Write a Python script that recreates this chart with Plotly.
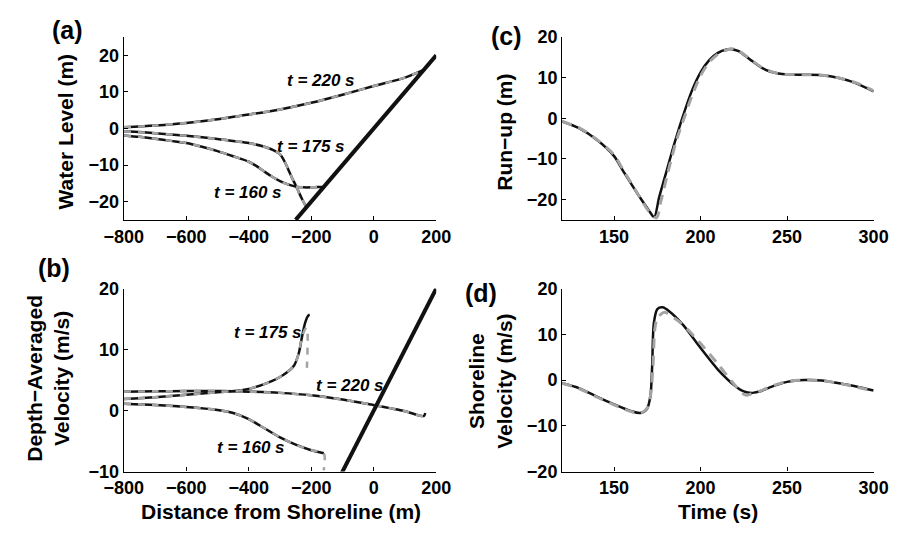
import plotly.graph_objects as go

# ---------------- data ----------------
# Panel (a): water level profiles (m) vs distance from shoreline (m)
a_x_220 = [-800, -700, -600, -500, -400, -300, -200, -100, 0, 100, 160]
a_y_220 = [0.3, 0.8, 1.5, 2.5, 3.8, 5.2, 7.0, 9.2, 11.6, 13.9, 16.0]
a_x_175 = [-800, -700, -600, -500, -400, -350, -320, -300, -290, -280, -270, -260, -250, -240, -230, -220, -215]
a_y_175 = [-0.8, -1.3, -2.0, -2.9, -4.0, -5.0, -6.0, -7.1, -8.3, -10.0, -11.9, -13.8, -15.5, -17.4, -19.2, -20.8, -21.5]
a_x_160 = [-800, -750, -700, -650, -600, -550, -500, -450, -400, -375, -350, -325, -300, -275, -250, -225, -200, -180, -160]
a_y_160 = [-1.9, -2.3, -2.8, -3.4, -4.0, -5.0, -6.2, -7.6, -9.1, -10.3, -11.8, -13.2, -14.4, -15.3, -15.9, -16.1, -16.1, -16.0, -16.0]

# Panel (b): depth-averaged velocity (m/s)
b_x_220 = [-800, -700, -600, -500, -400, -300, -200, -100, 0, 100, 160, 165]
b_y_220 = [3.1, 3.15, 3.2, 3.2, 3.1, 2.9, 2.5, 1.8, 0.9, -0.1, -0.9, -0.4]
b_x_175 = [-800, -700, -600, -500, -414, -342, -291, -255, -240, -230, -219, -209, -205]
b_y_175 = [1.9, 2.2, 2.6, 3.0, 3.4, 4.5, 5.8, 7.4, 9.4, 12.0, 14.5, 15.6, 15.7]
b_x_175_num = [-800, -700, -600, -500, -414, -342, -291, -255, -240, -230, -219, -214, -214]
b_y_175_num = [1.9, 2.2, 2.6, 3.0, 3.4, 4.5, 5.8, 7.4, 9.4, 12.0, 13.4, 13.6, 7.0]
b_x_160 = [-800, -700, -600, -500, -450, -400, -350, -300, -250, -200, -160]
b_y_160 = [1.1, 0.9, 0.6, 0.1, -0.4, -1.4, -2.9, -4.4, -5.6, -6.5, -7.0]
b_x_160_num = [-800, -700, -600, -500, -450, -400, -350, -300, -250, -200, -160, -160]
b_y_160_num = [1.1, 0.9, 0.6, 0.1, -0.4, -1.4, -2.9, -4.4, -5.6, -6.5, -7.0, -9.8]

# Beach profile (slope 1:10)
beach_x = [-250, 200]
beach_y = [-25, 20]

# Panel (c): run-up (m) vs time (s)
c_t = [120, 130, 140, 150, 155, 160, 165, 170, 173.2, 176, 180, 185, 190, 195, 200, 205, 210, 215, 218, 222, 226, 230, 235, 240, 245, 250, 260, 270, 280, 290, 300]
c_r = [-0.8, -2.5, -5.3, -9.3, -12.8, -16.2, -19.5, -22.6, -24.3, -19.5, -13.5, -6.0, 0.8, 6.8, 11.3, 14.3, 16.1, 16.9, 17.0, 16.5, 15.3, 14.0, 12.5, 11.5, 11.0, 10.8, 10.7, 10.6, 9.9, 8.6, 6.6]
c_t_num = [120, 130, 140, 150, 155, 160, 165, 170, 174.5, 177, 181, 186, 190, 195, 200, 205, 210, 215, 219, 222, 226, 230, 235, 240, 245, 250, 260, 270, 280, 290, 300]
c_r_num = [-0.8, -2.4, -5.2, -9.0, -12.5, -16.0, -19.5, -22.8, -24.5, -20.5, -13.5, -5.5, -0.5, 5.5, 10.5, 13.8, 15.8, 16.8, 17.1, 16.6, 15.4, 14.1, 12.6, 11.6, 11.0, 10.8, 10.7, 10.6, 9.9, 8.7, 6.8]

# Panel (d): shoreline velocity (m/s) vs time (s)
d_t = [120, 130, 140, 150, 160, 165, 169, 171, 172, 173, 175, 178, 182, 190, 200, 210, 220, 225, 230, 235, 240, 250, 260, 270, 280, 290, 300]
d_v = [-0.7, -1.8, -3.6, -5.3, -6.8, -7.2, -6.3, -3.5, 3.0, 12.5, 15.5, 15.9, 15.0, 12.0, 7.0, 2.3, -1.3, -2.5, -2.8, -2.4, -1.6, -0.4, 0.0, -0.1, -0.7, -1.4, -2.3]
d_t_num = [120, 130, 140, 150, 160, 165, 169, 171, 172.5, 173.5, 175, 179, 185, 190, 200, 210, 220, 226, 230, 235, 240, 250, 260, 270, 280, 290, 300]
d_v_num = [-0.7, -1.9, -3.7, -5.4, -6.9, -7.3, -6.2, -3.5, 3.0, 11.0, 13.5, 14.8, 13.5, 12.0, 8.0, 3.5, -1.2, -3.3, -2.9, -2.3, -1.5, -0.3, 0.0, -0.1, -0.7, -1.5, -2.4]

time_labels = ["t = 220 s", "t = 175 s", "t = 160 s"]

# ---------------- figure ----------------
W, H = 904, 540
BLACK = "#111111"
GRAY = "#a3a3a3"
FAM = "Liberation Sans"

fig = go.Figure()

def px_x(p):
    return p / W

def px_y(p):
    return 1 - p / H

# axes domains (pixel positions measured from reference)
dom = {
    "a": dict(x=[px_x(108), px_x(433)], y=[px_y(218), px_y(28)]),
    "c": dict(x=[px_x(564), px_x(888)], y=[px_y(218), px_y(28)]),
    "b": dict(x=[px_x(108), px_x(433)], y=[px_y(479.3), px_y(289.3)]),
    "d": dict(x=[px_x(564), px_x(888)], y=[px_y(479.3), px_y(289.3)]),
}
axmap = {"a": ("x", "y"), "c": ("x2", "y2"), "b": ("x3", "y3"), "d": ("x4", "y4")}

def add_pair(panel, xs, ys, xs2=None, ys2=None, gray_w=2.5, dash="7px,7px", spline=True):
    xa, ya = axmap[panel]
    shape = "spline" if spline else "linear"
    fig.add_trace(go.Scatter(x=xs, y=ys, mode="lines", xaxis=xa, yaxis=ya,
                             line=dict(color=BLACK, width=2.5, shape=shape, smoothing=0.8),
                             showlegend=False, hoverinfo="skip"))
    fig.add_trace(go.Scatter(x=xs2 if xs2 is not None else xs, y=ys2 if ys2 is not None else ys,
                             mode="lines", xaxis=xa, yaxis=ya,
                             line=dict(color=GRAY, width=gray_w, dash=dash, shape=shape, smoothing=0.8),
                             showlegend=False, hoverinfo="skip"))

# Panel a
add_pair("a", a_x_220, a_y_220)
add_pair("a", a_x_175, a_y_175)
add_pair("a", a_x_160, a_y_160)
fig.add_trace(go.Scatter(x=beach_x, y=beach_y, mode="lines", xaxis="x", yaxis="y",
                         line=dict(color=BLACK, width=4), showlegend=False, hoverinfo="skip"))
# Panel b
add_pair("b", b_x_220, b_y_220)
add_pair("b", b_x_175, b_y_175, b_x_175_num, b_y_175_num)
add_pair("b", b_x_160, b_y_160, b_x_160_num, b_y_160_num)
fig.add_trace(go.Scatter(x=beach_x, y=beach_y, mode="lines", xaxis="x3", yaxis="y3",
                         line=dict(color=BLACK, width=4), showlegend=False, hoverinfo="skip"))
# Panel c
add_pair("c", c_t, c_r, c_t_num, c_r_num, gray_w=3, dash="10px,7px")
# Panel d
add_pair("d", d_t, d_v, d_t_num, d_v_num, gray_w=3, dash="10px,7px")

axis_common = dict(showline=True, linecolor="black", linewidth=1.3, ticks="inside",
                   ticklen=4, tickwidth=1, tickcolor="black", showgrid=False, zeroline=False,
                   mirror=False, tickfont=dict(size=18, color="black", family=FAM, weight="bold"))

xr = [-800, 200]
fig.update_layout(
    width=W, height=H, margin=dict(l=0, r=0, t=0, b=0),
    paper_bgcolor="white", plot_bgcolor="white",
    font=dict(family=FAM, color="black", weight="bold"),
    xaxis=dict(domain=dom["a"]["x"], range=xr, tickvals=[-800, -600, -400, -200, 0, 200], anchor="y", **axis_common),
    yaxis=dict(domain=dom["a"]["y"], range=[-25, 25], tickvals=[-20, -10, 0, 10, 20], anchor="x", **axis_common),
    xaxis2=dict(domain=dom["c"]["x"], range=[120, 300], tickvals=[150, 200, 250, 300], anchor="y2", **axis_common),
    yaxis2=dict(domain=dom["c"]["y"], range=[-25, 20], tickvals=[-20, -10, 0, 10, 20], anchor="x2", **axis_common),
    xaxis3=dict(domain=dom["b"]["x"], range=xr, tickvals=[-800, -600, -400, -200, 0, 200], anchor="y3", **axis_common),
    yaxis3=dict(domain=dom["b"]["y"], range=[-10, 20], tickvals=[-10, 0, 10, 20], anchor="x3", **axis_common),
    xaxis4=dict(domain=dom["d"]["x"], range=[120, 300], tickvals=[150, 200, 250, 300], anchor="y4", **axis_common),
    yaxis4=dict(domain=dom["d"]["y"], range=[-20, 20], tickvals=[-20, -10, 0, 10, 20], anchor="x4", **axis_common),
)

ann = []
tfont = dict(size=17, color="black", family=FAM, weight="bold", style="italic")
# curve labels, panel a
ann += [dict(x=-169, y=13.1, xref="x", yref="y", text=time_labels[0], showarrow=False, font=tfont),
        dict(x=-200, y=-5.0, xref="x", yref="y", text=time_labels[1], showarrow=False, font=tfont),
        dict(x=-403, y=-17.6, xref="x", yref="y", text=time_labels[2], showarrow=False, font=tfont)]
# curve labels, panel b
ann += [dict(x=-77, y=4.1, xref="x3", yref="y3", text=time_labels[0], showarrow=False, font=tfont),
        dict(x=-338, y=12.8, xref="x3", yref="y3", text=time_labels[1], showarrow=False, font=tfont),
        dict(x=-394, y=-6.0, xref="x3", yref="y3", text=time_labels[2], showarrow=False, font=tfont)]

lfont = dict(size=21, color="black", family=FAM, weight="bold")
def pann(text, cx, cy, angle=0, font=lfont):
    return dict(x=px_x(cx), y=px_y(cy), xref="paper", yref="paper", text=text, showarrow=False,
                textangle=angle, font=font, xanchor="center", yanchor="middle")

# axis titles
ann += [pann("Water Level (m)", 47, 126, -90),
        pann("Run\u2212up (m)", 504, 127, -90),
        pann("Depth\u2212Averaged<br>Velocity (m/s)", 29, 382, -90),
        pann("Shoreline<br>Velocity (m/s)", 489, 386, -90),
        pann("Distance from Shoreline (m)", 271, 521),
        pann("Time (s)", 726, 521)]
# panel letters
pfont = dict(size=25, color="black", family=FAM, weight="bold")
ann += [pann("(a)", 49, 21, font=pfont), pann("(c)", 506, 27, font=pfont),
        pann("(b)", 35, 268, font=pfont), pann("(d)", 480, 294, font=pfont)]

fig.update_layout(annotations=ann)
fig.write_html("out.html")
